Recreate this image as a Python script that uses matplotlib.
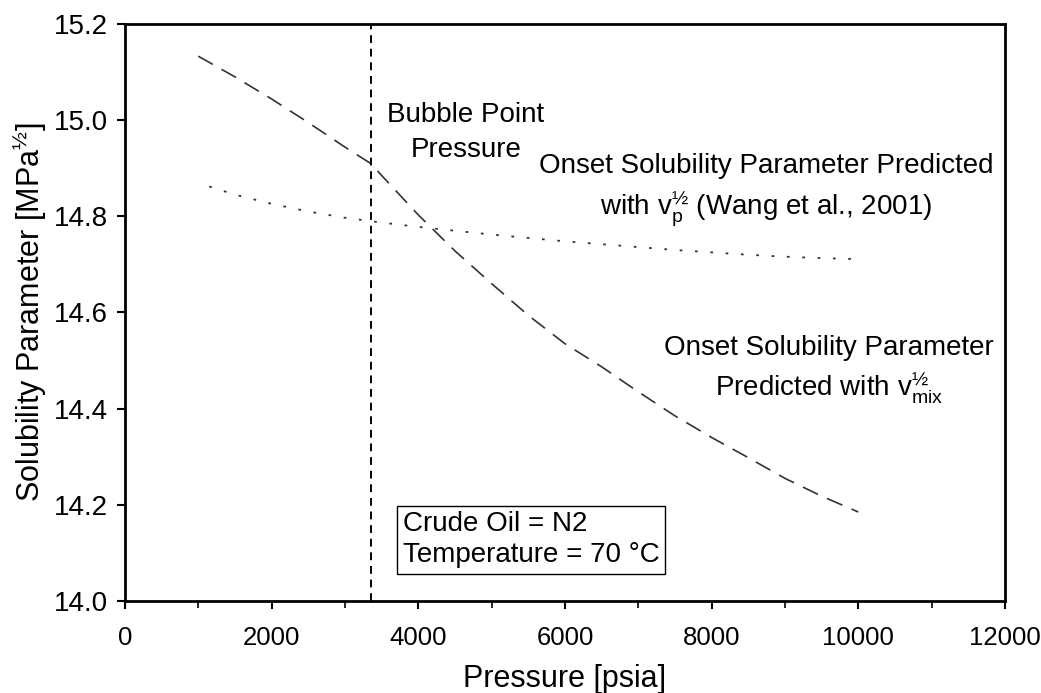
import matplotlib
matplotlib.use('Agg')
import matplotlib.pyplot as plt
from matplotlib.ticker import MultipleLocator

plt.rcParams['font.family'] = ['Liberation Sans', 'DejaVu Sans']
plt.rcParams['mathtext.fontset'] = 'custom'
plt.rcParams['mathtext.rm'] = 'Liberation Sans'
plt.rcParams['mathtext.it'] = 'Liberation Sans:italic'

# onset solubility parameter predicted with v_mix^1/2
p_mix = [1000, 1500, 2000, 2500, 3000, 3350, 3500, 4000, 4500, 5000,
         5500, 6000, 6500, 7000, 7500, 8000, 8500, 9000, 9500, 10000]
delta_mix = [15.133, 15.090, 15.044, 14.995, 14.944, 14.910, 14.885, 14.803, 14.728, 14.660,
             14.594, 14.535, 14.487, 14.435, 14.385, 14.340, 14.298, 14.255, 14.218, 14.185]

# onset solubility parameter predicted with v_p^1/2 (Wang et al., 2001)
p_wang = [1150, 1500, 2000, 2500, 3000, 3500, 4000, 4500, 5000, 5500,
          6000, 6500, 7000, 7500, 8000, 8500, 9000, 9500, 10000]
delta_wang = [14.862, 14.845, 14.826, 14.810, 14.797, 14.787, 14.778, 14.770, 14.762, 14.755,
              14.748, 14.742, 14.736, 14.730, 14.725, 14.720, 14.716, 14.713, 14.711]

bubble_point = 3350

fig = plt.figure(figsize=(10.41, 6.93), dpi=100)
ax = fig.add_axes([0.120, 0.1328, 0.8454, 0.8326])

ax.plot(p_mix, delta_mix, color='#333333', lw=1.2, dashes=(10, 6))
ax.plot(p_wang, delta_wang, color='#333333', lw=1.3, dashes=(1.5, 7))
ax.axvline(bubble_point, color='black', lw=1.4, dashes=(4, 3))

ax.set_xlim(0, 12000)
ax.set_ylim(14.0, 15.2)
ax.xaxis.set_major_locator(MultipleLocator(2000))
ax.xaxis.set_minor_locator(MultipleLocator(1000))
ax.set_yticks([14.0, 14.2, 14.4, 14.6, 14.8, 15.0, 15.2])
ax.set_yticklabels(['14.0', '14.2', '14.4', '14.6', '14.8', '15.0', '15.2'])
ax.tick_params(axis='both', which='major', direction='out', length=6, width=1.5, pad=6)
ax.tick_params(axis='y', labelsize=20)
ax.tick_params(axis='x', labelsize=18.5, pad=12)
ax.tick_params(axis='x', which='minor', direction='out', length=5, width=1.2)
for s in ax.spines.values():
    s.set_linewidth(2)

ax.set_xlabel('Pressure [psia]', fontsize=22, labelpad=10)
ax.set_ylabel(r'Solubility Parameter [MPa$\mathregular{^{½}}$]', fontsize=22, labelpad=4)

ax.text(4650, 14.975, 'Bubble Point\nPressure', fontsize=20, ha='center', va='center',
        linespacing=1.45)
ax.text(8745, 14.853, 'Onset Solubility Parameter Predicted\n'
        r'with v$\mathregular{_p^{½}}$ (Wang et al., 2001)',
        fontsize=20, ha='center', va='center', linespacing=1.45)
ax.text(9600, 14.479, 'Onset Solubility Parameter\n'
        r'Predicted with v$\mathregular{_{mix}^{½}}$',
        fontsize=20, ha='center', va='center', linespacing=1.4)
ax.text(3790, 14.127, 'Crude Oil = N2\nTemperature = 70 °C', fontsize=20,
        ha='left', va='center', linespacing=1.25,
        bbox=dict(boxstyle='square,pad=0.2', facecolor='white', edgecolor='black', lw=1))

fig.savefig('out.png', dpi=100, facecolor='white')
